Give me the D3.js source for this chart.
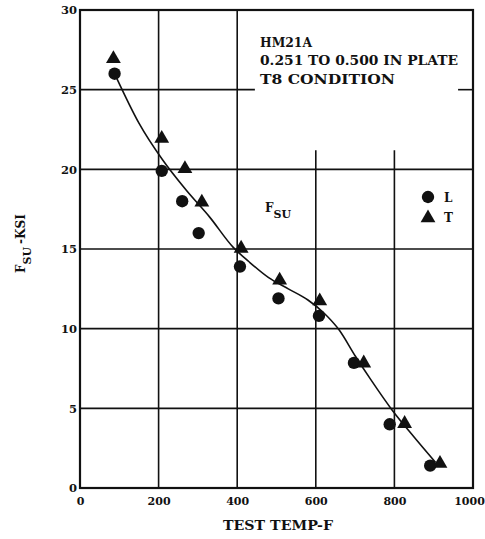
<!DOCTYPE html>
<html><head><meta charset="utf-8">
<script src="https://cdn.jsdelivr.net/npm/d3@7"></script>
<style>
html,body{margin:0;padding:0;background:#fff;}
svg{display:block;}
text{font-family:"DejaVu Serif","Liberation Serif",serif;font-weight:bold;fill:#111;}
</style></head>
<body>
<svg id="c" width="485" height="539"></svg>
<script>
// ---- data ----
const xTicks = [0, 200, 400, 600, 800, 1000];
const yTicks = [0, 5, 10, 15, 20, 25, 30];
const L_temp = [88, 208, 260, 302, 407, 505, 608, 697, 788, 891];
const L_fsu  = [26.0, 19.9, 18.0, 16.0, 13.9, 11.9, 10.8, 7.85, 4.0, 1.4];
const T_temp = [85, 208, 267, 310, 410, 508, 610, 722, 826, 916];
const T_fsu  = [27.0, 22.0, 20.1, 18.0, 15.1, 13.1, 11.8, 7.9, 4.1, 1.6];
const curve_temp = [90, 150, 210, 270, 330, 390, 430, 480, 530, 580, 620, 660, 700, 740, 794, 850, 905];
const curve_fsu  = [25.9, 22.9, 20.6, 18.7, 17.0, 15.1, 14.2, 13.2, 12.5, 11.8, 11.0, 9.9, 8.3, 6.8, 4.9, 3.2, 1.6];
const titleLines = ["HM21A", "0.251 TO 0.500 IN PLATE", "T8 CONDITION"];
const xTitle = "TEST TEMP-F";
const legendLabels = ["L", "T"];

// ---- layout ----
const svg = d3.select("#c");
const x = d3.scaleLinear().domain([0, 1000]).range([80, 473]);
const y = d3.scaleLinear().domain([0, 30]).range([488, 10]);
const boxX0 = 445, boxX1 = 962, boxY = 21.2; // blank area behind the title (data units)

const g = svg.append("g");

// grid lines
xTicks.slice(1, -1).forEach(v => {
  const top = (v > boxX0 && v < boxX1) ? boxY : 30;
  g.append("line").attr("x1", x(v)).attr("x2", x(v)).attr("y1", y(top)).attr("y2", y(0))
    .attr("stroke", "#111").attr("stroke-width", 1.6);
});
yTicks.slice(1, -1).forEach(v => {
  if (v > boxY) {
    g.append("line").attr("x1", x(0)).attr("x2", x(boxX0)).attr("y1", y(v)).attr("y2", y(v))
      .attr("stroke", "#111").attr("stroke-width", 1.6);
    g.append("line").attr("x1", x(boxX1)).attr("x2", x(1000)).attr("y1", y(v)).attr("y2", y(v))
      .attr("stroke", "#111").attr("stroke-width", 1.6);
  } else {
    g.append("line").attr("x1", x(0)).attr("x2", x(1000)).attr("y1", y(v)).attr("y2", y(v))
      .attr("stroke", "#111").attr("stroke-width", 1.6);
  }
});

// frame
g.append("rect").attr("x", x(0)).attr("y", y(30)).attr("width", x(1000) - x(0)).attr("height", y(0) - y(30))
  .attr("fill", "none").attr("stroke", "#111").attr("stroke-width", 2.2);

// axes (labels only)
const xAxis = d3.axisBottom(x).tickValues(xTicks).tickSize(0).tickPadding(9).tickFormat(d3.format("d"));
const gx = svg.append("g").attr("transform", `translate(0,${y(0)})`).call(xAxis);
gx.select(".domain").remove();
gx.selectAll("text").style("font-size", "11px").style("font-family", "DejaVu Serif").style("font-weight", "bold").attr("fill", "#111")
  .attr("dx", d => d === 1000 ? -4 : 0);

const yAxis = d3.axisLeft(y).tickValues(yTicks).tickSize(0).tickPadding(3).tickFormat(d3.format("d"));
const gy = svg.append("g").attr("transform", `translate(${x(0)},0)`).call(yAxis);
gy.select(".domain").remove();
gy.selectAll("text").style("font-size", "11.5px").style("font-family", "DejaVu Serif").style("font-weight", "bold").attr("fill", "#111");

// curve
const pts = curve_temp.map((t, i) => [t, curve_fsu[i]]);
const line = d3.line().x(d => x(d[0])).y(d => y(d[1])).curve(d3.curveMonotoneX);
g.append("path").attr("d", line(pts)).attr("fill", "none").attr("stroke", "#111").attr("stroke-width", 1.6);

// markers
const circ = d3.symbol().type(d3.symbolCircle).size(120);
const tri = d3.symbol().type(d3.symbolTriangle).size(95);
L_temp.forEach((t, i) => {
  g.append("path").attr("d", circ()).attr("transform", `translate(${x(t)},${y(L_fsu[i])})`).attr("fill", "#111");
});
T_temp.forEach((t, i) => {
  g.append("path").attr("d", tri()).attr("transform", `translate(${x(t)},${y(T_fsu[i]) + 1})`).attr("fill", "#111");
});

// title block
const tl = [47, 65, 84];
const tw = [52, 198, 135];
titleLines.forEach((s, i) => {
  svg.append("text").attr("x", 260).attr("y", tl[i]).style("font-size", "12.5px")
    .attr("textLength", tw[i]).attr("lengthAdjust", "spacingAndGlyphs").text(s);
});

// F_SU label in plot
const fsu = svg.append("text").attr("x", 265).attr("y", 212).style("font-size", "12px");
fsu.append("tspan").text("F");
fsu.append("tspan").attr("dy", 6).style("font-size", "11px").text("SU");

// legend
svg.append("path").attr("d", circ()).attr("transform", "translate(428,197)").attr("fill", "#111");
svg.append("path").attr("d", tri()).attr("transform", "translate(428,218)").attr("fill", "#111");
svg.append("text").attr("x", 444).attr("y", 202).style("font-size", "12px").text(legendLabels[0]);
svg.append("text").attr("x", 444).attr("y", 222).style("font-size", "12px").text(legendLabels[1]);

// x title
svg.append("text").attr("x", 278).attr("y", 530).attr("text-anchor", "middle").style("font-size", "12.5px")
  .attr("textLength", 110).attr("lengthAdjust", "spacingAndGlyphs").text(xTitle);

// y title (rotated)
const yt = svg.append("text").attr("transform", "translate(25,273) rotate(-90)").style("font-size", "12px");
yt.append("tspan").text("F");
yt.append("tspan").attr("dy", 6).style("font-size", "11px").text("SU");
yt.append("tspan").attr("dy", -6).attr("dx", 3).text("-KSI");
</script>
</body></html>
